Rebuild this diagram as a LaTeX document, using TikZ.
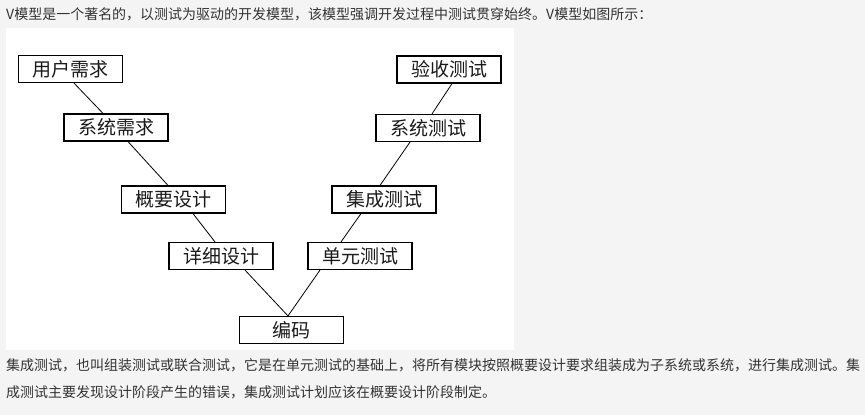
\documentclass[tikz,border=0pt]{standalone}
\usepackage{fontspec}
\setmainfont{Noto Sans CJK SC}
\definecolor{pagebg}{HTML}{F4F4F4}
\definecolor{bodytext}{HTML}{333333}
\definecolor{boxtext}{HTML}{1A1A1A}
\tikzset{
  stage/.style={draw, line width=1.2pt, minimum width=104, minimum height=27,
    inner sep=0pt, text=boxtext, font=\fontsize{19}{20}\selectfont},
  link/.style={line width=0.8pt},
  para/.style={anchor=west, inner sep=0pt, text=bodytext, text height=12.3pt,
    text depth=1.7pt, font=\fontsize{14}{16}\selectfont}
}
\begin{document}
\begin{tikzpicture}[x=1pt, y=-1pt]
  % page and picture panel
  \fill[pagebg] (0,0) rectangle (865,415);
  \fill[white] (6,28) rectangle (514,350);
  \node[para] (intro) at (6,14.5) {V模型是一个著名的，以测试为驱动的开发模型，该模型强调开发过程中测试贯穿始终。V模型如图所示：};
  % stages: name / x / y / text
  \foreach \n/\x/\y/\t in {
    ur/70.5/69/{用户需求},
    xq/116/127.5/{系统需求},
    gy/173.5/199.5/{概要设计},
    xx/221/256/{详细设计},
    bm/291.5/330/{编码},
    dy/360/256/{单元测试},
    jc/384/199.5/{集成测试},
    xt/428/128/{系统测试},
    ys/449/69.5/{验收测试}} {
    \node[stage] (\n) at (\x,\y) {\t};
  }
  % links: upper / shift / lower / shift
  \foreach \a/\da/\b/\db in {
    ur/3.5/xq/-13,
    xq/12/gy/-5.5,
    gy/19.5/xx/-6,
    xx/24/bm/-3.5,
    dy/-40/bm/-3.5,
    jc/-23/dy/-19,
    xt/-18/jc/-4,
    ys/3/xt/4} {
    \draw[link] ([xshift=\da]\a.south) -- ([xshift=\db]\b.north);
  }
  % text below
  \node[para] (line1) at (6,365) {集成测试，也叫组装测试或联合测试，它是在单元测试的基础上，将所有模块按照概要设计要求组装成为子系统或系统，进行集成测试。集};
  \node[para] (line2) at (6,392) {成测试主要发现设计阶段产生的错误，集成测试计划应该在概要设计阶段制定。};
\end{tikzpicture}
\end{document}
